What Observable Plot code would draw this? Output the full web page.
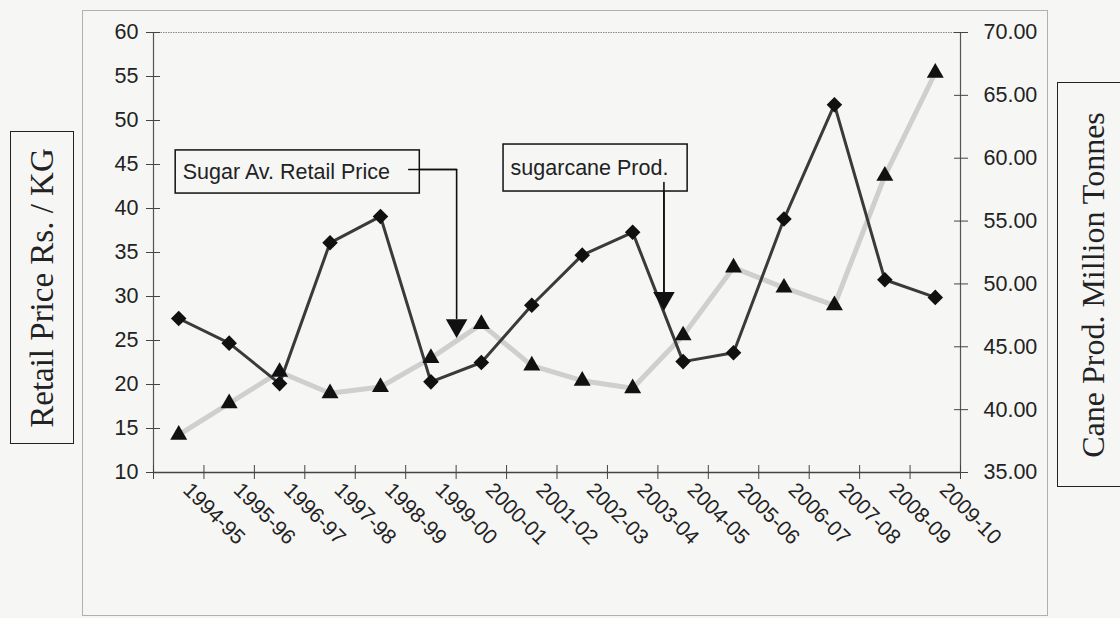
<!DOCTYPE html>
<html>
<head>
<meta charset="utf-8">
<script src="https://cdn.jsdelivr.net/npm/d3@7"></script>
<script src="https://cdn.jsdelivr.net/npm/@observablehq/plot@0.6"></script>
<style>
  html, body { margin: 0; padding: 0; background: #f6f6f5; }
  #wrap { position: relative; width: 1120px; height: 618px; overflow: hidden; background: #f6f6f5; }
  #wrap svg { position: absolute; left: 0; top: 0; }
  .outer { position: absolute; left: 82px; top: 10px; width: 966px; height: 606px; border: 1px solid #b0b0b0; box-sizing: border-box; }
  .ylab { position: absolute; border: 1.5px solid #222; box-sizing: border-box; }
  .ylab span { position: absolute; left: 50%; top: 50%; transform: translate(-50%, -50%) rotate(-90deg);
    white-space: nowrap; font-family: "Liberation Serif", "Times New Roman", serif; font-size: 32px; color: #222; }
</style>
</head>
<body>
<div id="wrap">
  <div class="outer"></div>
  <div class="ylab" style="left:10px; top:131px; width:64px; height:313px;"><span style="font-size:33px">Retail Price Rs. / KG</span></div>
  <div class="ylab" style="left:1057px; top:82px; width:80px; height:405px;"><span style="left:35px">Cane Prod. Million Tonnes</span></div>
</div>
<script>
// ---- data ----
const categories = ["1994-95","1995-96","1996-97","1997-98","1998-99","1999-00","2000-01","2001-02",
                    "2002-03","2003-04","2004-05","2005-06","2006-07","2007-08","2008-09","2009-10"];
const retailPrice = [27.5, 24.7, 20.1, 36.1, 39.1, 20.3, 22.5, 29.0, 34.7, 37.3, 22.6, 23.6, 38.8, 51.8, 31.9, 29.9];
const caneProd    = [38.0, 40.5, 43.0, 41.3, 41.8, 44.1, 46.8, 43.5, 42.3, 41.7, 45.9, 51.3, 49.7, 48.3, 58.6, 66.8];
const leftTicks  = [10, 15, 20, 25, 30, 35, 40, 45, 50, 55, 60];
const rightTicks = [35, 40, 45, 50, 55, 60, 65, 70];
const annotationLabels = ["Sugar Av. Retail Price", "sugarcane Prod."];

// secondary axis mapping (cane domain -> left domain)
const toLeft = d3.scaleLinear().domain([35, 70]).range([10, 60]);

const rows = categories.map((c, i) => ({i, cat: c, price: retailPrice[i], cane: caneProd[i]}));

// annotation geometry in data units
const boxes = [
  {x1: -0.06, x2: 4.78, y1: 41.7, y2: 46.6, tx: 0.08, ty: 44.15, label: annotationLabels[0]},
  {x1: 6.44, x2: 10.09, y1: 41.93, y2: 47.27, tx: 6.58, ty: 44.6, label: annotationLabels[1]}
];
const arrow1 = [{x: 4.56, y: 44.43}, {x: 5.51, y: 44.43}, {x: 5.51, y: 27.5}];
const arrow2 = [{x: 9.62, y: 42.95}, {x: 9.62, y: 30.5}];
const heads = [{x: 5.51, y: 26.7}, {x: 9.62, y: 29.8}];

const chart = Plot.plot({
  width: 1120,
  height: 618,
  marginLeft: 153,
  marginRight: 160,
  marginTop: 32,
  marginBottom: 146,
  style: {background: "transparent", fontFamily: "'Liberation Sans', Arial, sans-serif", color: "#222"},
  x: {domain: [-0.5, 15.5], axis: null},
  y: {domain: [10, 60], axis: null},
  marks: [
    // plot area border
    Plot.ruleY([60], {stroke: "#8a8a8a", strokeWidth: 1, strokeDasharray: "1.5,1"}),
    Plot.ruleX([-0.5], {stroke: "#555", strokeWidth: 1.2}),
    Plot.ruleX([15.5], {stroke: "#555", strokeWidth: 1.2}),
    Plot.ruleY([10], {stroke: "#444", strokeWidth: 1.5}),
    // axes
    Plot.axisY(leftTicks, {anchor: "left", tickSize: 14, dx: 7, tickPadding: 8, fontSize: 21.5, stroke: "#444", fill: "#222"}),
    Plot.axisY(rightTicks.map(toLeft), {anchor: "right", tickSize: 14, dx: -7, tickPadding: 16, fontSize: 21.5,
      stroke: "#444", fill: "#222", tickFormat: v => toLeft.invert(v).toFixed(2)}),
    Plot.axisX(d3.range(-0.5, 16, 1), {anchor: "bottom", tickSize: 14, dy: -7, stroke: "#444", tickFormat: () => ""}),
    Plot.axisX(d3.range(16), {anchor: "bottom", tickSize: 0, tickPadding: 14, tickRotate: 45, fontSize: 21,
      dx: 8, fill: "#222", tickFormat: i => categories[i]}),
    // series
    Plot.line(rows, {x: "i", y: d => toLeft(d.cane), stroke: "#cfcfcf", strokeWidth: 5}),
    Plot.line(rows, {x: "i", y: "price", stroke: "#3a3a3a", strokeWidth: 3}),
    Plot.dot(rows, {x: "i", y: d => toLeft(d.cane), symbol: "triangle", r: 6.3, fill: "#111", stroke: "none"}),
    Plot.dot(rows, {x: "i", y: "price", symbol: "diamond2", r: 7, fill: "#111", stroke: "none"}),
    // annotations
    Plot.line(arrow1, {x: "x", y: "y", stroke: "#111", strokeWidth: 1.6}),
    Plot.line(arrow2, {x: "x", y: "y", stroke: "#111", strokeWidth: 1.6}),
    Plot.dot(heads, {x: "x", y: "y", symbol: "triangle", r: 8, rotate: 180, fill: "#111", stroke: "none"}),
    Plot.rect(boxes, {x1: "x1", x2: "x2", y1: "y1", y2: "y2", fill: "#f6f6f5", stroke: "#111", strokeWidth: 1.5}),
    Plot.text(boxes, {x: "tx", y: "ty", text: "label", textAnchor: "start", fontSize: 21.5, fill: "#222"}),
    // re-draw arrow starts over the box fill
    Plot.line(arrow1.slice(0, 2), {x: "x", y: "y", stroke: "#111", strokeWidth: 1.6}),
    Plot.line(arrow2, {x: "x", y: "y", stroke: "#111", strokeWidth: 1.6})
  ]
});
document.getElementById("wrap").prepend(chart);
</script>
</body>
</html>
